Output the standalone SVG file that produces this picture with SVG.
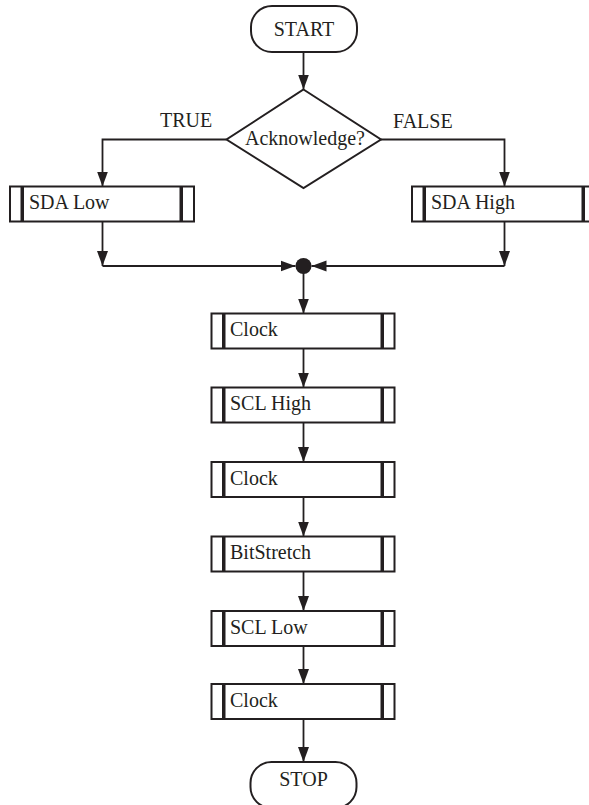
<svg xmlns="http://www.w3.org/2000/svg" width="589" height="805" viewBox="0 0 589 805">
  <style>
    .shape { fill: #ffffff; stroke: #231f20; stroke-width: 2; }
    .bar { fill: #231f20; }
    .wire { fill: none; stroke: #231f20; stroke-width: 1.8; }
    .txt { font-family: "Liberation Serif", "Times New Roman", serif; font-size: 20px; fill: #231f20; }
    .mid { text-anchor: middle; }
  </style>
  <defs>
    <marker id="arrow" markerUnits="userSpaceOnUse" markerWidth="16" markerHeight="12" viewBox="0 0 16 12" refX="15" refY="6" orient="auto">
      <path d="M0,0.5 L15,6 L0,11.5 Z" fill="#231f20"/>
    </marker>
  </defs>
  <rect width="589" height="805" fill="#ffffff"/>

  <!-- connectors -->
  <g id="connectors">
    <line class="wire" x1="303.5" y1="52" x2="303.5" y2="89.5" marker-end="url(#arrow)"/>
    <polyline class="wire" points="226.5,139.5 102.5,139.5 102.5,186.5" marker-end="url(#arrow)"/>
    <polyline class="wire" points="381,139.5 504.5,139.5 504.5,186.5" marker-end="url(#arrow)"/>
    <line class="wire" x1="102.5" y1="221.5" x2="102.5" y2="266" marker-end="url(#arrow)"/>
    <line class="wire" x1="102.5" y1="266" x2="295.5" y2="266" marker-end="url(#arrow)"/>
    <line class="wire" x1="504.5" y1="221.5" x2="504.5" y2="266" marker-end="url(#arrow)"/>
    <line class="wire" x1="504.5" y1="266" x2="311.5" y2="266" marker-end="url(#arrow)"/>
    <line class="wire" x1="303.5" y1="270" x2="303.5" y2="313.5" marker-end="url(#arrow)"/>
    <line class="wire" x1="303.5" y1="348.5" x2="303.5" y2="387.5" marker-end="url(#arrow)"/>
    <line class="wire" x1="303.5" y1="422.5" x2="303.5" y2="462" marker-end="url(#arrow)"/>
    <line class="wire" x1="303.5" y1="497" x2="303.5" y2="536.5" marker-end="url(#arrow)"/>
    <line class="wire" x1="303.5" y1="571.5" x2="303.5" y2="611" marker-end="url(#arrow)"/>
    <line class="wire" x1="303.5" y1="646" x2="303.5" y2="684" marker-end="url(#arrow)"/>
    <line class="wire" x1="303.5" y1="719" x2="303.5" y2="762" marker-end="url(#arrow)"/>
    <circle cx="303.5" cy="266" r="8" fill="#231f20"/>
  </g>

  <!-- terminals and decision -->
  <g id="start">
    <rect class="shape" x="251" y="6" width="106" height="46" rx="21" ry="21"/>
    <text class="txt mid" x="304" y="36">START</text>
  </g>
  <g id="acknowledge">
    <polygon class="shape" points="303.5,89.5 381,139.5 303.5,188 226.5,139.5"/>
    <text class="txt mid" x="305" y="145">Acknowledge?</text>
  </g>
  <g id="labels">
    <text class="txt" x="160" y="127">TRUE</text>
    <text class="txt" x="393" y="128">FALSE</text>
  </g>

  <!-- predefined-process boxes -->
  <g id="sda-low">
    <rect class="shape" x="10" y="186.5" width="184" height="35"/>
    <rect class="bar" x="20.5" y="186.5" width="3.5" height="35"/>
    <rect class="bar" x="179.5" y="186.5" width="3.5" height="35"/>
    <text class="txt" x="29" y="209">SDA Low</text>
  </g>
  <g id="sda-high">
    <rect class="shape" x="412" y="186.5" width="184" height="35"/>
    <rect class="bar" x="422.5" y="186.5" width="3.5" height="35"/>
    <rect class="bar" x="581.5" y="186.5" width="3.5" height="35"/>
    <text class="txt" x="431" y="209">SDA High</text>
  </g>
  <g id="clock-1">
    <rect class="shape" x="211.5" y="313.5" width="183" height="35"/>
    <rect class="bar" x="222" y="313.5" width="3.5" height="35"/>
    <rect class="bar" x="380.5" y="313.5" width="3.5" height="35"/>
    <text class="txt" x="230" y="336">Clock</text>
  </g>
  <g id="scl-high">
    <rect class="shape" x="211.5" y="387.5" width="183" height="35"/>
    <rect class="bar" x="222" y="387.5" width="3.5" height="35"/>
    <rect class="bar" x="380.5" y="387.5" width="3.5" height="35"/>
    <text class="txt" x="230" y="410">SCL High</text>
  </g>
  <g id="clock-2">
    <rect class="shape" x="211.5" y="462" width="183" height="35"/>
    <rect class="bar" x="222" y="462" width="3.5" height="35"/>
    <rect class="bar" x="380.5" y="462" width="3.5" height="35"/>
    <text class="txt" x="230" y="484.5">Clock</text>
  </g>
  <g id="bitstretch">
    <rect class="shape" x="211.5" y="536.5" width="183" height="35"/>
    <rect class="bar" x="222" y="536.5" width="3.5" height="35"/>
    <rect class="bar" x="380.5" y="536.5" width="3.5" height="35"/>
    <text class="txt" x="230" y="559">BitStretch</text>
  </g>
  <g id="scl-low">
    <rect class="shape" x="211.5" y="611" width="183" height="35"/>
    <rect class="bar" x="222" y="611" width="3.5" height="35"/>
    <rect class="bar" x="380.5" y="611" width="3.5" height="35"/>
    <text class="txt" x="230" y="633.5">SCL Low</text>
  </g>
  <g id="clock-3">
    <rect class="shape" x="211.5" y="684" width="183" height="35"/>
    <rect class="bar" x="222" y="684" width="3.5" height="35"/>
    <rect class="bar" x="380.5" y="684" width="3.5" height="35"/>
    <text class="txt" x="230" y="706.5">Clock</text>
  </g>

  <g id="stop">
    <rect class="shape" x="250.5" y="762" width="106" height="46" rx="21" ry="21"/>
    <text class="txt mid" x="303.5" y="786">STOP</text>
  </g>
</svg>
